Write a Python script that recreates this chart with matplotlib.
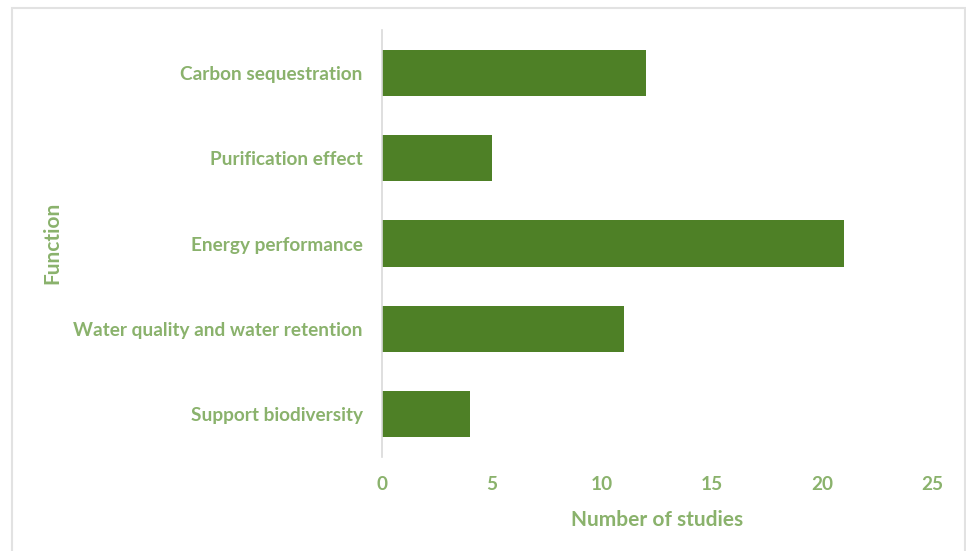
import matplotlib.pyplot as plt
from matplotlib.patches import Rectangle

functions = ["Carbon sequestration", "Purification effect", "Energy performance",
             "Water quality and water retention", "Support biodiversity"]
studies = [12, 5, 21, 11, 4]
xticks = [0, 5, 10, 15, 20, 25]

bar_color = "#4E8026"
text_color = "#8AB26C"
plt.rcParams["font.family"] = ["Lato", "DejaVu Sans"]

W, H = 966, 551
fig = plt.figure(figsize=(W / 100, H / 100), dpi=100)
# outer chart border
fig.patches.append(Rectangle((12 / W, -0.01), 953 / W, 1 - 8 / H + 0.01,
                             transform=fig.transFigure, fill=False,
                             edgecolor="#E2E2E2", linewidth=1.5))

ax = fig.add_axes([382 / W, (H - 457) / H, (932 - 382) / W, (457 - 30) / H])
pos = list(range(len(functions)))[::-1]
ax.barh(pos, studies, height=0.54, color=bar_color)
ax.set_xlim(0, 25)
ax.set_ylim(-0.5, len(functions) - 0.5)
ax.set_xticks(xticks)
ax.set_yticks(pos)
ax.set_yticklabels(functions)
for s in ["top", "right", "bottom"]:
    ax.spines[s].set_visible(False)
ax.spines["left"].set_color("#D9D9D9")
ax.spines["left"].set_linewidth(1.2)
ax.tick_params(length=0, colors=text_color, labelsize=13.7)
ax.tick_params(axis="x", pad=14)
ax.tick_params(axis="y", pad=14)
for lbl in ax.get_yticklabels():
    lbl.set_fontweight("bold")
for lbl in ax.get_xticklabels():
    lbl.set_fontweight("bold")
ax.set_xlabel("Number of studies", color=text_color, fontsize=15, fontweight="bold", labelpad=12)
fig.text(52 / W, 1 - 243 / H, "Function", color=text_color, fontsize=15,
         fontweight="bold", rotation=90, ha="center", va="center")

fig.savefig("out.png", dpi=100)
